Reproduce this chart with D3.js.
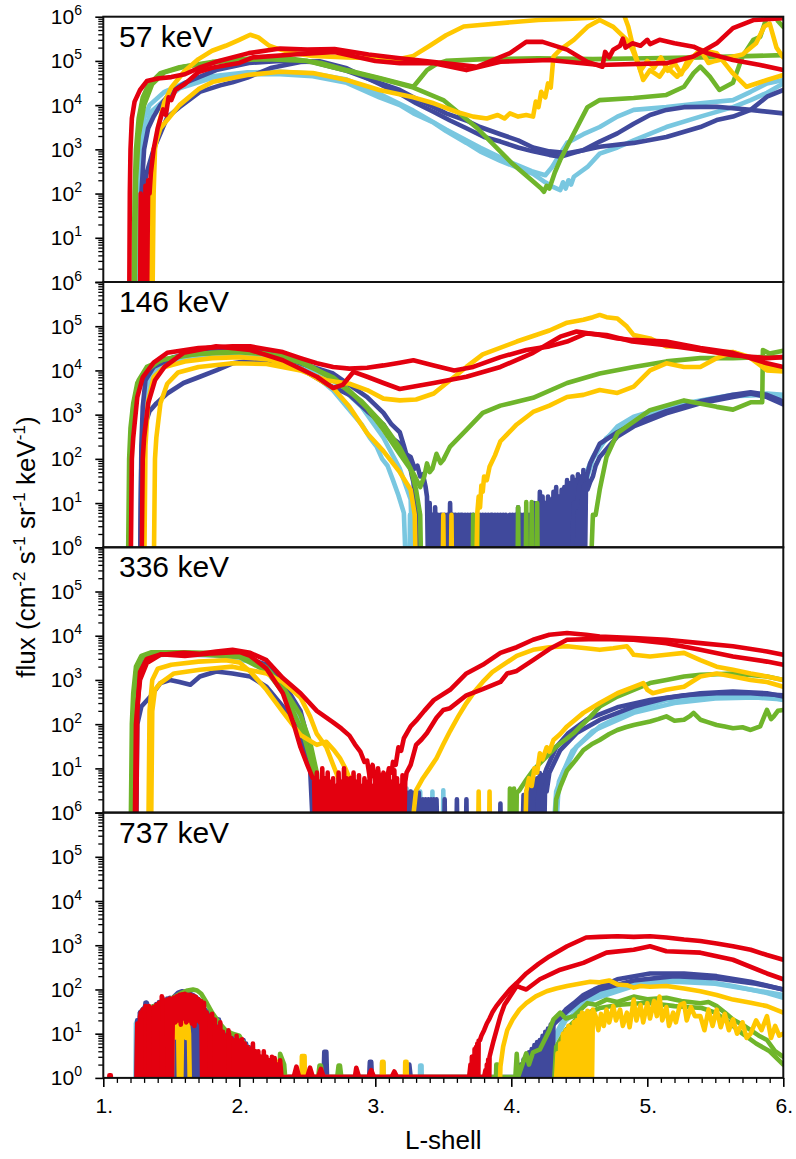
<!DOCTYPE html>
<html><head><meta charset="utf-8">
<script src="https://cdn.jsdelivr.net/npm/d3@7"></script>
<style>body{margin:0;background:#fff}svg{display:block}text{font-family:"Liberation Sans",Arial,Helvetica,sans-serif;fill:#000}</style>
</head><body>
<script>
// ---------------- axis / label data ----------------
const panelTitles = ["57 keV","146 keV","336 keV","737 keV"];
const xTicks = [1,2,3,4,5,6];
const xTickLabels = ["1.","2.","3.","4.","5.","6."];
const yMajor = [1,10,100,1e3,1e4,1e5,1e6];
const yExp = ["0","1","2","3","4","5","6"];
const xTitle = "L-shell";

// ---------------- 57 keV ----------------
const k57_lblueA = [[1.27,0],[1.28,1e2],[1.29,8e2],[1.31,3e3],[1.35,7e3],[1.45,1.3e4],[1.56,2.4e4],[1.81,4.2e4],[2.06,5e4],[2.3,5e4],[2.54,4.5e4],[2.79,3.2e4],[3.03,1.5e4],[3.18,1e4],[3.28,6.5e3],[3.43,4e3],[3.52,2.6e3],[3.67,1.4e3],[3.77,9e2],[3.92,5.5e2],[4.05,3.8e2],[4.16,2.8e2],[4.25,1.8e2],[4.31,1.4e2],[4.36,1.2e2],[4.38,1.8e2],[4.40,1.3e2],[4.42,2e2],[4.44,1.6e2],[4.46,2.4e2],[4.56,4e2],[4.65,8e2],[4.78,1.1e3],[4.90,1.6e3],[5.14,3.2e3],[5.39,5.5e3],[5.63,9e3],[5.76,1.3e4],[5.88,1.9e4],[6.0,3.1e4]];
const k57_lblueB = [[1.26,0],[1.27,2e2],[1.28,1.5e3],[1.30,5e3],[1.34,1e4],[1.45,2e4],[1.6,3.2e4],[1.8,4.5e4],[2.06,5.5e4],[2.3,5.7e4],[2.54,5.2e4],[2.79,3.8e4],[3.03,1.8e4],[3.28,7.5e3],[3.52,2.8e3],[3.77,1.1e3],[4.0,5e2],[4.15,3.2e2],[4.25,2.6e2],[4.30,4e2],[4.36,8e2],[4.41,1.4e3],[4.53,2.2e3],[4.65,3.2e3],[4.78,5.5e3],[4.90,7.8e3],[5.14,9e3],[5.39,1.1e4],[5.63,1.3e4],[5.76,2e4],[5.88,3.1e4],[6.0,3.7e4]];
const k57_dblueA = [[1.28,0],[1.29,1.2e2],[1.32,3e2],[1.37,1e3],[1.42,2.3e3],[1.47,5.3e3],[1.56,9e3],[1.71,2e4],[1.86,2.8e4],[1.95,3.3e4],[2.06,4.2e4],[2.23,6.9e4],[2.45,9.5e4],[2.59,9.8e4],[2.79,6.8e4],[3.03,3e4],[3.18,1.8e4],[3.30,1.1e4],[3.43,7e3],[3.55,4.5e3],[3.67,3e3],[3.80,1.9e3],[3.92,1.5e3],[4.05,1.1e3],[4.16,9e2],[4.28,7.5e2],[4.36,6.8e2],[4.44,8e2],[4.53,9.6e2],[4.65,1.5e3],[4.78,2.3e3],[4.90,3.8e3],[5.02,6e3],[5.14,7.8e3],[5.27,9e3],[5.51,9.2e3],[5.76,7.8e3],[6.0,6.5e3]];
const k57_dblueB = [[1.27,0],[1.28,1e2],[1.30,1e3],[1.33,3e3],[1.37,5.5e3],[1.42,1e4],[1.5,2e4],[1.6,3.2e4],[1.83,6.2e4],[2.07,9e4],[2.3,1e5],[2.54,9.5e4],[2.79,6e4],[3.03,3.2e4],[3.18,2.2e4],[3.28,1.5e4],[3.43,9e3],[3.52,6.5e3],[3.67,4.5e3],[3.77,3.2e3],[3.92,2.2e3],[4.05,1.6e3],[4.16,1.1e3],[4.28,9e2],[4.41,8.2e2],[4.53,9.5e2],[4.65,1.15e3],[4.90,1.4e3],[5.14,1.9e3],[5.39,3.2e3],[5.51,4.6e3],[5.63,5.5e3],[5.76,7.8e3],[5.88,1.55e4],[6.0,2.2e4]];
const k57_greenA = [[1.22,0],[1.23,1e2],[1.24,1e3],[1.26,5e3],[1.29,1.5e4],[1.33,2.8e4],[1.42,5.3e4],[1.56,7.2e4],[1.8,9.5e4],[2.1,1.15e5],[2.4,1.1e5],[2.6,9e4],[2.79,6.2e4],[3.03,4.1e4],[3.28,2.6e4],[3.33,4e4],[3.38,6.2e4],[3.45,8.5e4],[3.52,1e5],[3.8,1.1e5],[4.2,1.15e5],[4.6,1.1e5],[5.0,1.15e5],[5.4,1.2e5],[5.8,1.3e5],[6.0,1.35e5]];
const k57_greenB = [[1.23,0],[1.24,2e2],[1.26,2e3],[1.30,1e4],[1.36,3e4],[1.45,5.5e4],[1.6,7.5e4],[1.9,1e5],[2.2,1.1e5],[2.5,1e5],[2.79,6e4],[3.03,4e4],[3.28,2.5e4],[3.5,1.3e4],[3.75,3e3],[4.0,5e2],[4.15,2e2],[4.22,1.3e2],[4.24,1.1e2],[4.26,1.5e2],[4.28,1.3e2],[4.32,3e2],[4.36,5.8e2],[4.46,2.3e3],[4.56,9e3],[4.65,1.3e4],[4.9,1.45e4],[5.14,1.7e4],[5.27,2.6e4],[5.34,5.3e4],[5.39,7.4e4],[5.46,4.4e4],[5.53,2.2e4],[5.63,3.2e4],[5.70,1.26e5],[5.78,3e5],[5.83,3.5e5],[5.88,1e6],[5.92,1.5e6],[5.96,8e5],[6.0,5.9e5]];
const k57_yellowA = [[1.36,0],[1.37,1e2],[1.38,1e3],[1.41,4e3],[1.45,1.2e4],[1.5,2.5e4],[1.6,6e4],[1.7,1.1e5],[1.8,1.7e5],[1.9,2.2e5],[2.0,3e5],[2.08,3.9e5],[2.14,3.4e5],[2.22,2.2e5],[2.3,1.8e5],[2.4,1.5e5],[2.54,1.3e5],[2.79,1.2e5],[3.03,1.15e5],[3.18,1.1e5],[3.28,1.3e5],[3.4,2.2e5],[3.52,3.8e5],[3.65,6e5],[3.77,6.5e5],[4.0,7.5e5],[4.2,8.4e5],[4.45,9e5],[4.6,9.5e5],[4.65,1.1e6],[4.75,1.4e6],[4.82,1.3e6],[4.86,6e5],[4.9,1.8e5],[4.95,6e4],[5.0,1e5],[5.05,7e4],[5.1,1.2e5],[5.15,6e4],[5.2,9e4],[5.25,5e4],[5.3,1.1e5],[5.35,1.3e5],[5.4,1.6e5],[5.45,9e4],[5.5,1e5],[5.6,1.2e5],[5.7,1.4e5],[5.8,2.5e5],[5.86,6e5],[5.9,7e5],[5.95,2e5],[6.0,1.2e5]];
const k57_yellowB = [[1.34,0],[1.35,1e2],[1.37,1e3],[1.42,3e3],[1.5,6e3],[1.56,1e4],[1.7,2.3e4],[1.81,3.4e4],[2.06,4.8e4],[2.3,5.7e4],[2.54,5.3e4],[2.79,3.7e4],[3.03,2.2e4],[3.28,1.5e4],[3.43,1.1e4],[3.6,7e3],[3.72,5.5e3],[3.82,5e3],[3.9,6e3],[3.95,5e3],[3.99,6.5e3],[4.05,5.5e3],[4.11,6e3],[4.16,5.5e3],[4.18,1.2e4],[4.20,9e3],[4.22,2e4],[4.25,1.5e4],[4.27,3.1e4],[4.29,2.5e4],[4.31,1.25e5],[4.36,1.8e5],[4.46,3e5],[4.56,5.9e5],[4.65,8.4e5],[4.75,5.9e5],[4.85,3e5],[4.89,1.8e5],[4.94,7.4e4],[4.97,3.7e4],[5.02,6.2e4],[5.09,4.4e4],[5.14,7.4e4],[5.22,4.4e4],[5.29,7.4e4],[5.34,1.26e5],[5.39,1.8e5],[5.51,1.5e5],[5.63,5.2e4],[5.73,2.6e4],[5.88,3.7e4],[6.0,4.8e4]];
const k57_redA = [[1.19,0],[1.195,1e2],[1.2,1e3],[1.21,5e3],[1.23,1.2e4],[1.27,2.2e4],[1.32,3.5e4],[1.4,4e4],[1.5,4.3e4],[1.6,5e4],[1.7,6.9e4],[1.85,1e5],[2.07,1.5e5],[2.3,1.9e5],[2.5,1.8e5],[2.7,1.85e5],[2.95,1.4e5],[3.18,1.15e5],[3.5,8.9e4],[3.75,7.4e4],[3.99,1.5e5],[4.11,2.7e5],[4.23,2.7e5],[4.41,1.8e5],[4.56,9.5e4],[4.67,7.4e4],[4.69,1.6e5],[4.72,1.2e5],[4.75,1.8e5],[4.80,2.2e5],[4.82,3.2e5],[4.84,2e5],[4.89,2.5e5],[4.95,2.2e5],[5.0,3e5],[5.02,2.4e5],[5.09,3e5],[5.2,2.5e5],[5.34,2.1e5],[5.44,1.5e5],[5.63,1.05e5],[5.83,8.1e4],[6.0,6.2e4]];
const k57_redB = [[1.27,0],[1.275,1e2],[1.28,0],[1.29,80],[1.30,0],[1.31,1.5e2],[1.32,0],[1.33,2e2],[1.34,1e2],[1.35,3e2],[1.37,1e3],[1.40,3e3],[1.44,8e3],[1.46,6e3],[1.48,1.5e4],[1.5,1.3e4],[1.53,2.2e4],[1.6,3e4],[1.7,5.6e4],[1.8,7e4],[1.9,8e4],[2.0,9e4],[2.1,1.2e5],[2.4,1.4e5],[2.7,1.6e5],[3.0,1e5],[3.18,8.9e4],[3.43,8.9e4],[3.67,6.2e4],[3.92,9.6e4],[4.28,1.05e5],[4.65,8.1e4],[5.14,8.9e4],[5.34,1.26e5],[5.51,2.5e5],[5.63,5.5e5],[5.78,8.4e5],[6.0,9.2e5]];

// ---------------- 146 keV ----------------
const k146_lblueA = [[1.27,0],[1.28,1e2],[1.30,1.5e3],[1.34,7e3],[1.42,1.3e4],[1.6,1.8e4],[1.8,2.2e4],[2.0,2.4e4],[2.2,2e4],[2.45,1.2e4],[2.6,6e3],[2.69,3.5e3],[2.79,1.5e3],[2.9,6e2],[2.96,3e2],[3.01,1.9e2],[3.05,1e2],[3.09,70],[3.13,33],[3.17,15],[3.21,6],[3.23,0],[3.25,0],[3.255,5.4],[3.26,0],[3.28,0],[3.285,5.4],[3.29,0],[3.575,0],[3.58,5.4],[3.585,0],[3.615,0],[3.62,5.4],[3.625,0],[4.45,0],[4.46,5.4],[4.48,0],[4.50,10],[4.52,10],[4.54,25],[4.56,56],[4.60,1.1e2],[4.65,1.9e2],[4.78,5.4e2],[4.90,9e2],[5.14,1.5e3],[5.39,2.1e3],[5.63,2.8e3],[5.88,3e3],[6.0,2.8e3]];
const k146_lblueB = [[1.28,0],[1.29,3e2],[1.32,4e3],[1.38,1.1e4],[1.5,1.8e4],[1.7,2.5e4],[1.95,2.8e4],[2.2,2.4e4],[2.45,1.4e4],[2.69,6e3],[2.9,1.5e3],[3.06,3e2],[3.18,60],[3.26,12],[3.28,0],[4.47,0],[4.50,12],[4.53,20],[4.6,1e2],[4.7,3e2],[4.9,8e2],[5.14,1.4e3],[5.39,2e3],[5.63,2.6e3],[5.88,2.8e3],[6.0,2.6e3]];
const k146_dblueA_a = [[1.27,0],[1.28,1e2],[1.30,5e2],[1.34,1.2e3],[1.39,1.8e3],[1.47,3e3],[1.59,5.2e3],[1.71,7.2e3],[1.83,1e4],[1.95,1.45e4],[2.10,1.7e4],[2.28,1.6e4],[2.45,1.1e4],[2.64,5e3],[2.81,2.8e3],[2.94,1.2e3],[3.06,6e2],[3.12,3e2],[3.18,2.2e2],[3.22,1.3e2],[3.26,1.1e2],[3.29,60],[3.31,70],[3.33,40],[3.35,45],[3.37,23]];
const n146_dblueA = [14,0,10,0,5.4,0,8,0,5.4,0, 5.4,5.4,0,5.4,0,5.4,0,10,0,5.4, 0,5.4,0,5.4,0,5.4,5.4,0,5.4,0, 5.4,0,5.4,0,5.4,0,0,5.4,0,5.4, 0,5.4,0,5.4,0,5.4,0,5.4,5.4,0, 5.4,0,5.4,0,5.4,0,5.4,0,5.4,0, 0,5.4,0,5.4,0,5.4,0,8,0,5.4, 0,5.4,0,5.4,0,5.4,0,5.4,0,10, 0,5.4,0,18,0,14,0,10,0,14, 0,12,0,18,0,23,0,14,0,20, 0,23,0,33,0,28,0,40,0,33, 0,45,0,40,0,56,0,45];
const k146_dblueA_b = [[4.56,20],[4.58,30],[4.60,40],[4.62,70],[4.65,1.1e2],[4.78,3.2e2],[4.90,5.4e2],[5.14,1.07e3],[5.39,1.8e3],[5.63,2.5e3],[5.76,3e3],[5.88,2.5e3],[6.0,1.7e3]];
const k146_dblueB = [[1.27,0],[1.28,2e2],[1.29,1.5e3],[1.31,6e3],[1.37,1.2e4],[1.52,2e4],[1.71,2.9e4],[1.95,3.2e4],[2.20,2.6e4],[2.45,1.45e4],[2.69,8.5e3],[2.94,2.5e3],[3.06,1.1e3],[3.12,6e2],[3.18,4e2],[3.21,2e2],[3.23,1.2e2],[3.25,80],[3.27,40],[3.28,30],[3.30,8],[3.31,0],[4.44,0],[4.46,10],[4.48,8],[4.50,25],[4.53,40],[4.55,35],[4.58,80],[4.65,2.2e2],[4.78,4e2],[4.90,6.3e2],[5.14,1.2e3],[5.39,2e3],[5.63,2.8e3],[5.76,3.2e3],[5.88,2.8e3],[6.0,2e3]];
const k146_greenA = [[1.18,0],[1.19,1e2],[1.20,5e2],[1.22,1.8e3],[1.25,5.2e3],[1.32,1e4],[1.42,1.7e4],[1.6,2.2e4],[1.8,2.5e4],[2.0,2.7e4],[2.2,2.4e4],[2.45,1.5e4],[2.69,7e3],[2.81,3.5e3],[2.94,1.4e3],[3.06,4.5e2],[3.18,1.3e2],[3.28,47],[3.33,23],[3.36,40],[3.38,79],[3.40,50],[3.42,60],[3.45,1.3e2],[3.48,80],[3.50,95],[3.55,1.9e2],[3.67,4.5e2],[3.79,1.1e3],[3.92,1.6e3],[4.16,2.4e3],[4.41,5.2e3],[4.65,8.5e3],[4.90,1.2e4],[5.14,1.6e4],[5.39,1.9e4],[5.63,1.9e4],[5.83,2e4],[6.0,2e4]];
const k146_greenB = [[1.19,0],[1.20,2e2],[1.22,1.5e3],[1.26,6e3],[1.32,1.2e4],[1.45,1.8e4],[1.7,2.4e4],[2.0,2.6e4],[2.3,2.2e4],[2.5,1.4e4],[2.7,6e3],[2.9,2e3],[3.06,6e2],[3.18,1.8e2],[3.26,60],[3.30,20],[3.33,5.4],[3.34,0],[3.715,0],[3.72,5.4],[3.725,0],[3.745,0],[3.75,5.4],[3.755,0],[4.045,0],[4.05,8],[4.055,0],[4.105,0],[4.11,10.5],[4.115,0],[4.145,0],[4.15,10.5],[4.155,0],[4.185,0],[4.19,10],[4.195,0],[4.58,0],[4.60,5.4],[4.62,5.4],[4.65,20],[4.70,1.1e2],[4.78,3.8e2],[5.02,1.26e3],[5.27,2.1e3],[5.51,1.5e3],[5.63,1.3e3],[5.76,1.9e3],[5.845,1.9e3],[5.85,2.9e4],[5.9,2.4e4],[6.0,2.8e4]];
const k146_yellowA = [[1.37,0],[1.38,1e2],[1.39,3e2],[1.42,1.8e3],[1.47,5e3],[1.55,9e3],[1.7,1.2e4],[1.95,1.45e4],[2.2,1.4e4],[2.45,1e4],[2.64,6e3],[2.81,5e3],[2.94,3.6e3],[3.06,2.3e3],[3.18,2.1e3],[3.30,2.2e3],[3.43,3e3],[3.55,6e3],[3.67,1.2e4],[3.79,2.3e4],[4.04,4.5e4],[4.28,8e4],[4.41,1.2e5],[4.53,1.4e5],[4.60,1.6e5],[4.65,1.8e5],[4.70,1.6e5],[4.78,1.5e5],[4.85,9.8e4],[4.90,6.3e4],[5.02,5.3e4],[5.14,3.5e4],[5.27,3.5e4],[5.39,2.9e4],[5.51,2.6e4],[5.63,2.6e4],[5.76,2e4],[5.88,1.2e4],[6.0,1e4]];
const k146_yellowB = [[1.30,0],[1.31,2e2],[1.33,2e3],[1.37,7e3],[1.45,1.2e4],[1.6,1.6e4],[1.8,1.9e4],[2.0,2e4],[2.2,1.8e4],[2.45,1.1e4],[2.69,4e3],[2.81,1.5e3],[2.94,3.8e2],[3.06,1.5e2],[3.18,50],[3.26,20],[3.29,5.4],[3.30,0],[3.495,0],[3.50,5.4],[3.505,0],[3.555,0],[3.56,5.4],[3.565,0],[3.74,0],[3.75,5.9],[3.76,14],[3.77,8],[3.78,25],[3.79,18],[3.80,40],[3.82,33],[3.84,66],[3.88,1.2e2],[3.92,2.5e2],[4.04,6e2],[4.16,1.15e3],[4.28,1.6e3],[4.41,2.5e3],[4.53,2.8e3],[4.65,3.6e3],[4.78,3.1e3],[4.90,4.3e3],[5.02,1e4],[5.14,1.45e4],[5.27,1.2e4],[5.39,1.2e4],[5.51,1.9e4],[5.63,2.6e4],[5.76,1.9e4],[5.88,1e4],[6.0,9.5e3]];
const k146_redA = [[1.20,0],[1.21,1e2],[1.22,3e2],[1.25,2.5e3],[1.29,7e3],[1.37,1.5e4],[1.47,2.5e4],[1.7,3.2e4],[1.95,3.5e4],[2.08,3.5e4],[2.2,3e4],[2.32,2.6e4],[2.45,1.9e4],[2.57,1.45e4],[2.69,1.2e4],[2.81,1.1e4],[2.94,1.15e4],[3.06,1.3e4],[3.18,1.5e4],[3.28,1.7e4],[3.43,1.3e4],[3.58,1e4],[3.72,1.2e4],[3.92,2e4],[4.11,2.9e4],[4.28,3.5e4],[4.41,4.5e4],[4.55,6.9e4],[4.70,6.3e4],[4.89,4.5e4],[5.14,3.7e4],[5.39,2.9e4],[5.63,2.2e4],[5.88,1.9e4],[6.0,2e4]];
const k146_redB = [[1.28,0],[1.29,1e2],[1.30,3e2],[1.33,1.8e3],[1.38,6e3],[1.45,1.2e4],[1.59,2.5e4],[1.83,3.5e4],[2.08,2.9e4],[2.32,1.7e4],[2.57,7.2e3],[2.69,4e3],[2.76,4.7e3],[2.84,9.3e3],[2.94,7.2e3],[3.06,5.2e3],[3.18,3.8e3],[3.43,5.2e3],[3.67,7.2e3],[3.92,1.2e4],[4.16,2.5e4],[4.36,5.8e4],[4.48,7.6e4],[4.65,6.3e4],[4.78,5.3e4],[4.89,4.9e4],[5.14,4.5e4],[5.39,3.2e4],[5.63,2.5e4],[5.88,1.45e4],[6.0,1.2e4]];

// ---------------- 336 keV ----------------
const k336_lblueA = [[1.22,0],[1.23,2e2],[1.25,1.5e3],[1.28,3e3],[1.35,4e3],[1.5,4.2e3],[1.7,4e3],[1.9,3.8e3],[2.08,3e3],[2.2,1.8e3],[2.32,6e2],[2.45,1.3e2],[2.5,35],[2.55,6],[2.57,0],[3.255,0],[3.26,3],[3.265,0],[3.325,0],[3.33,3],[3.335,0],[3.495,0],[3.50,3.2],[3.505,0],[4.30,0],[4.33,3],[4.38,8],[4.48,31],[4.65,89],[4.90,2.1e2],[5.14,3.5e2],[5.39,4.2e2],[5.63,4.6e2],[5.88,4.2e2],[6.0,3.5e2]];
const k336_lblueB = [[1.23,0],[1.24,3e2],[1.27,2e3],[1.32,3.5e3],[1.5,3.8e3],[1.8,3.6e3],[2.08,2.6e3],[2.25,1.2e3],[2.4,2.5e2],[2.5,40],[2.56,5],[2.58,0],[3.225,0],[3.23,3.5],[3.235,0],[3.415,0],[3.42,3],[3.425,0],[4.32,0],[4.35,5],[4.45,25],[4.6,70],[4.9,1.8e2],[5.2,3e2],[5.5,3.8e2],[5.8,4e2],[6.0,3.6e2]];
const k336_dblueA_a = [[1.22,0],[1.23,1e2],[1.25,1e3],[1.28,2.5e3],[1.33,3.5e3],[1.45,4e3],[1.6,4e3],[1.8,4e3],[2.0,3.5e3],[2.2,2.2e3],[2.32,9e2],[2.45,2e2],[2.5,50],[2.53,12],[2.55,4]];
const n336_dblueA1 = [0,3,0,3.5,0,3,0,4,0,3,0,3,0,3.5,0,3,0];
const n336_dblueA2 = [0,2.8,0,3,0,2.8,0,3,0,2.8,0,3,0,2.8,0,0,2,0,2,0,2,0,2,0,2,0,2,0];
const k336_dblueA_b = [[3.505,0],[3.51,2],[3.515,0],[3.595,0],[3.60,2],[3.605,0],[3.665,0],[3.67,2],[3.675,0],[3.915,0],[3.92,1.6],[3.925,0],[4.07,0]];
const n336_dblueA3 = [0,2.5,0,3,0,3.5,0,4,0,5,0,6,0,7.8,0,7,0,8,3];
const k336_dblueA_c = [[4.28,8],[4.36,26],[4.48,63],[4.65,1.25e2],[4.90,2.5e2],[5.14,3.9e2],[5.39,5e2],[5.63,5.5e2],[5.88,5e2],[6.0,4.2e2]];
const k336_dblueB = [[1.24,0],[1.25,1e2],[1.28,2.5e2],[1.34,4e2],[1.42,8.5e2],[1.49,1e3],[1.56,9e2],[1.64,7.8e2],[1.71,1.2e3],[1.83,1.55e3],[1.95,1.4e3],[2.08,1.2e3],[2.20,7e2],[2.32,2.5e2],[2.45,63],[2.52,11],[2.55,0],[4.18,0],[4.20,3],[4.26,10],[4.33,30],[4.42,63],[4.56,1.3e2],[4.78,2.4e2],[5.02,3.5e2],[5.27,4.5e2],[5.51,5e2],[5.76,5e2],[6.0,4.5e2]];
const k336_greenA = [[1.20,0],[1.21,1e2],[1.22,5e2],[1.24,2e3],[1.28,3.5e3],[1.35,4.2e3],[1.6,4.2e3],[1.9,4e3],[2.08,3.2e3],[2.2,1.9e3],[2.32,7e2],[2.45,1.6e2],[2.52,40],[2.57,8],[2.6,0],[3.985,0],[3.99,3.5],[3.995,0],[4.015,0],[4.02,3.5],[4.025,0],[4.035,0],[4.04,2.8],[4.06,3.2],[4.08,4],[4.11,5.5],[4.16,9],[4.21,13],[4.27,20],[4.33,31],[4.40,45],[4.46,63],[4.51,90],[4.56,1.25e2],[4.65,2.5e2],[4.78,4.2e2],[4.90,6e2],[5.02,8.5e2],[5.14,1e3],[5.27,1.2e3],[5.39,1.3e3],[5.63,1.4e3],[5.88,1.2e3],[6.0,1e3]];
const k336_greenB = [[1.21,0],[1.22,2e2],[1.24,1.5e3],[1.28,3e3],[1.4,3.8e3],[1.7,3.8e3],[2.0,3.3e3],[2.2,1.6e3],[2.35,4e2],[2.47,60],[2.55,8],[2.58,0],[4.31,0],[4.33,2],[4.36,3.8],[4.41,9],[4.47,15],[4.53,26],[4.59,35],[4.65,44],[4.72,60],[4.78,74],[4.84,85],[4.90,96],[4.96,1.05e2],[5.02,1.15e2],[5.08,1.3e2],[5.14,1.5e2],[5.20,1.2e2],[5.27,1.26e2],[5.31,1.5e2],[5.34,1.8e2],[5.39,1.26e2],[5.45,1.1e2],[5.51,96],[5.57,88],[5.63,81],[5.70,85],[5.76,74],[5.83,89],[5.86,1.5e2],[5.88,2.1e2],[5.91,1.3e2],[5.93,1.5e2],[5.96,2e2],[6.0,2.1e2]];
const k336_yellowA = [[1.33,0],[1.34,2e2],[1.36,1e3],[1.40,1.8e3],[1.5,2.2e3],[1.7,2.6e3],[1.9,2.8e3],[2.0,2.5e3],[2.08,1.55e3],[2.2,6e2],[2.32,1.9e2],[2.45,57],[2.57,34],[2.64,40],[2.70,25],[2.74,17],[2.78,10],[2.81,6],[2.84,0],[3.25,0],[3.30,3.2],[3.35,6],[3.40,10],[3.45,17],[3.50,35],[3.55,70],[3.61,1.5e2],[3.67,3e2],[3.73,5.5e2],[3.79,9e2],[3.86,1.5e3],[3.92,2e3],[4.04,3.5e3],[4.16,4.8e3],[4.28,5.5e3],[4.41,5.8e3],[4.55,5.2e3],[4.65,4.8e3],[4.75,5.2e3],[4.85,5.8e3],[4.88,4.5e3],[4.90,3.7e3],[5.02,3.4e3],[5.14,3.7e3],[5.27,4.1e3],[5.39,2.8e3],[5.51,2e3],[5.63,1.7e3],[5.76,1.4e3],[5.88,1.2e3],[6.0,1e3]];
const k336_yellowB = [[1.35,0],[1.36,2e2],[1.38,6e2],[1.42,8.5e2],[1.52,1.4e3],[1.71,1.7e3],[1.95,2e3],[2.2,1.4e3],[2.32,9e2],[2.45,4e2],[2.52,1.5e2],[2.57,60],[2.6,45],[2.64,30],[2.7,10],[2.75,4],[2.77,0],[3.755,0],[3.76,3],[3.765,0],[3.835,0],[3.84,3],[3.845,0],[4.10,0],[4.11,3],[4.13,6],[4.15,4],[4.17,10],[4.19,8],[4.21,22],[4.23,16],[4.26,30],[4.28,24],[4.31,44],[4.36,60],[4.41,89],[4.53,1.8e2],[4.65,3e2],[4.78,5e2],[4.90,7e2],[4.97,8.5e2],[5.0,6e2],[5.04,5e2],[5.14,6e2],[5.27,7e2],[5.39,1.2e3],[5.51,1.4e3],[5.63,1.2e3],[5.76,1e3],[5.88,9e2],[6.0,7e2]];
const k336_redA = [[1.23,0],[1.24,1e2],[1.25,2.5e2],[1.27,1e3],[1.32,2.4e3],[1.42,3.7e3],[1.59,4.1e3],[1.71,3.9e3],[1.83,4.4e3],[1.95,4.8e3],[2.08,4.1e3],[2.2,2.8e3],[2.32,1.1e3],[2.45,5e2],[2.57,2e2],[2.69,1.1e2],[2.75,80],[2.81,55],[2.85,35],[2.89,24],[2.92,14],[2.94,15],[2.96,6],[2.98,12],[3.0,5],[3.02,9],[3.04,4],[3.06,8],[3.08,4.3],[3.10,10],[3.12,8],[3.13,14],[3.15,12],[3.17,30],[3.19,25],[3.21,48],[3.26,89],[3.30,1.2e2],[3.36,2e2],[3.43,3.5e2],[3.55,6e2],[3.67,1.4e3],[3.79,2.2e3],[3.92,4.1e3],[4.04,5.5e3],[4.16,8.1e3],[4.28,1.05e4],[4.41,1.15e4],[4.55,1.05e4],[4.65,9.6e3],[4.90,8.9e3],[5.14,8.1e3],[5.39,6.8e3],[5.63,5.8e3],[5.88,4.4e3],[6.0,3.7e3]];
const k336_redB_a = [[1.24,0],[1.25,2e2],[1.27,1.5e3],[1.32,3e3],[1.42,3.8e3],[1.6,3.5e3],[1.8,4e3],[2.0,4.3e3],[2.08,3.5e3],[2.2,1.8e3],[2.32,5e2],[2.40,1e2],[2.45,30],[2.5,12],[2.54,6]];
const n336_redB = [6,0,8,0,5,0,10,0,6,0, 8,0,5,0,6,0,4,0,8,0, 5,0,10,0,6,0,4,6,0,8, 0,5,0,7,0,4,0,6,0,5, 0,8,0,4,0,6,0,10,0,5, 0,6,0,4,0,8,0,5,0,9, 0,6,0,4,0,7,0,5];
const k336_redB_b = [[3.23,8],[3.26,12],[3.30,34],[3.34,45],[3.38,63],[3.45,1.4e2],[3.50,2.1e2],[3.55,2.3e2],[3.67,4.5e2],[3.79,6.2e2],[3.92,9e2],[3.97,1.4e3],[4.04,1.6e3],[4.16,2.8e3],[4.28,5e3],[4.41,8.1e3],[4.65,8.5e3],[4.90,8.1e3],[5.14,6.8e3],[5.39,4.8e3],[5.63,3.4e3],[5.88,2.6e3],[6.0,2.2e3]];

// ---------------- 737 keV ----------------
const k737_lblueA = [[1.235,0],[1.24,17],[1.25,20],[1.255,0],[1.875,0],[1.88,12],[1.89,12],[1.895,0],[3.045,0],[3.05,2.2],[3.06,2.2],[3.065,0],[3.325,0],[3.33,1.9],[3.34,1.9],[3.345,0],[4.10,0],[4.16,1.2],[4.28,5],[4.41,30],[4.65,83],[4.90,1.4e2],[5.14,1.7e2],[5.39,1.6e2],[5.63,1.2e2],[5.88,83],[6.0,65]];
const k737_lblueB = [[4.2,0],[4.25,3],[4.4,20],[4.6,60],[4.9,1.2e2],[5.2,1.5e2],[5.5,1.35e2],[5.8,95],[6.0,75]];
const k737_dblueA_a = [[1.23,0]];
const n737_dblueA1 = [0,20,0,30,0,35,0,50,0,42, 0,40,0,42,0,47,0,52,0,55, 0,58,0,62,0,65,0,35,0,32, 0,35,0,30,0,33,0,28,0,30, 0,25,0,20,0,25,0,30,0,40, 0,34,0,30,0,28,0,25,0,21, 0,21,0,14,0,12,0,10,0,9, 0,8,0,7,0,8,0,7.2,0,7, 0,6,0,5,0,4,0,3,0];
const k737_dblueA_b = [[2.13,1.05],[2.62,1.05],[2.625,3.9],[2.64,3.9],[2.645,1.05],[2.955,1.05],[2.96,2.3],[2.97,2.3],[2.975,1.05],[3.24,1.05],[3.25,2],[3.26,1.05],[4.03,1.05]];
const n737_dblueA2 = [1.05,1.5,0,2,0,2.6,0,3,0,3.8,0,4.5,0,5.5,0,6.5,0,7.2,0,9,0,11,0,13,0,16,0,19,21];
const k737_dblueA_c = [[4.36,25],[4.40,35],[4.46,49],[4.53,75],[4.61,1e2],[4.78,1.7e2],[5.02,2.3e2],[5.27,2.3e2],[5.51,2e2],[5.76,1.5e2],[6.0,1e2]];
const k737_dblueB = [[1.26,0],[1.27,30],[1.30,38],[1.32,50],[1.33,35],[1.40,45],[1.50,60],[1.55,85],[1.58,91],[1.62,85],[1.66,75],[1.70,60],[1.75,34],[1.80,25],[1.84,21],[1.87,0],[1.99,0],[2.0,7.2],[2.03,7.2],[2.04,0],[4.08,0],[4.12,2],[4.2,6],[4.3,15],[4.4,30],[4.5,55],[4.65,1e2],[4.9,1.6e2],[5.2,2e2],[5.5,1.8e2],[5.8,1.35e2],[6.0,1e2]];
const k737_greenA = [[1.25,0],[1.26,15],[1.3,35],[1.4,45],[1.5,62],[1.58,85],[1.62,95],[1.66,1e2],[1.69,95],[1.72,80],[1.76,50],[1.80,30],[1.85,18],[1.90,12],[1.95,10],[2.0,9],[2.05,5],[2.1,4],[2.15,3],[2.18,1.05],[2.58,1.05],[2.59,1.9],[2.60,1.9],[2.61,1.05],[2.72,1.05],[2.73,1.9],[2.74,1.9],[2.75,1.05],[4.03,1.05],[4.04,3.5],[4.05,1.05],[4.11,3.6],[4.13,2],[4.16,3.8],[4.21,4.4],[4.28,12],[4.31,21],[4.36,30],[4.40,22],[4.46,25],[4.51,35],[4.56,49],[4.62,45],[4.70,59],[4.78,52],[4.90,69],[5.0,60],[5.14,65],[5.25,55],[5.39,49],[5.45,52],[5.51,42],[5.57,30],[5.63,21],[5.70,16],[5.76,12],[5.82,9],[5.88,7.2],[5.94,4],[6.0,3]];
const k737_greenB = [[2.29,0],[2.30,3.5],[2.33,2],[2.36,0],[3.88,0],[3.89,2],[3.90,2],[3.905,0],[4.30,0],[4.33,5],[4.40,12],[4.50,25],[4.65,38],[4.80,45],[5.0,50],[5.2,42],[5.4,38],[5.5,30],[5.6,18],[5.7,10],[5.8,6],[5.9,4],[6.0,2]];
const k737_yellowA_a = [[1.49,0]];
const n737_yellowA = [0,17,8,18,9,20,0,0,25,10,22,8,20,10,0,0,0,0];
const k737_yellowA_b = [[1.995,0],[2.0,6.7],[2.02,6.7],[2.025,0],[2.19,0],[2.2,2.2],[2.25,2.5],[2.3,2.2],[2.31,0],[2.455,0],[2.46,3.1],[2.48,3.1],[2.485,0],[3.045,0],[3.05,2.3],[3.06,2.3],[3.065,0],[3.215,0],[3.22,2.3],[3.23,2.3],[3.235,0],[3.91,0],[3.92,1.8],[3.94,5.1],[3.97,12],[4.01,21],[4.06,35],[4.11,49],[4.18,70],[4.26,91],[4.33,1.05e2],[4.41,1.2e2],[4.5,1.35e2],[4.58,1.5e2],[4.65,1.45e2],[4.72,1.6e2],[4.78,1.3e2],[4.85,1.25e2],[4.90,1.1e2],[4.95,1.2e2],[5.02,1.15e2],[5.14,1.2e2],[5.27,1.05e2],[5.39,91],[5.51,75],[5.63,59],[5.76,50],[5.88,42],[6.0,30]];
const k737_yellowB_a = [[4.32,0]];
const n737_yellowB = [1.05,3.6,0,6,0,10,0,12,0,15,0,14,0,18,0,20,0,25,0,30,0,28,0,33,0,30,0,35];
const k737_yellowB_b = [[4.62,25],[4.64,12],[4.66,28],[4.68,15],[4.70,35],[4.72,18],[4.75,42],[4.77,20],[4.80,35],[4.82,15],[4.85,30],[4.87,14],[4.90,59],[4.92,20],[4.95,45],[4.97,18],[5.0,49],[5.02,22],[5.05,55],[5.07,25],[5.09,69],[5.11,20],[5.14,40],[5.16,15],[5.19,30],[5.21,18],[5.24,45],[5.27,49],[5.29,20],[5.32,40],[5.35,25],[5.39,25],[5.42,12],[5.45,35],[5.48,15],[5.51,35],[5.54,14],[5.57,28],[5.60,12],[5.63,21],[5.66,10],[5.70,18],[5.73,8],[5.76,10],[5.80,20],[5.84,12],[5.88,25],[5.91,8],[5.94,15],[5.97,9],[6.0,10]];
const k737_redA_a = [[1.04,0],[1.045,1.15],[1.055,1.15],[1.06,0],[1.24,0]];
const n737_redA = [17,0,25,0,35,0,42,0,38,0, 38,0,40,0,45,0,50,0,70,0, 55,0,59,0,62,0,15,66,18,70, 20,76,16,78,22,80,18,76,20,76, 17,72,15,68,20,60,18,55,0,50, 0,30,0,25,0,28,0,21,0,14, 0,18,0,11,0,9,0,12,0,8, 0,7,0,9,0,7,0,7.5,0,6, 0,5,0,4.5,0,6,0,4,0,4, 0,3,0,4,0,3,0,2.5,0,3, 0,2.8,0,2,0,2.5];
const k737_redA_b = [[2.31,1.05],[2.40,1.05],[2.42,1.8],[2.44,1.05],[2.50,1.05],[2.52,1.7],[2.54,1.05],[2.95,1.05],[2.97,1.5],[2.99,1.05],[3.69,1.05],[3.70,2],[3.705,0],[3.71,3],[3.715,0],[3.72,3.1],[3.725,0],[3.73,4.5],[3.735,0],[3.74,5],[3.745,0],[3.75,6],[3.755,0],[3.76,7],[3.77,7.2],[3.78,9],[3.80,12],[3.82,17],[3.84,22],[3.86,30],[3.89,42],[3.93,60],[3.99,1e2],[4.04,1.4e2],[4.11,2.3e2],[4.2,3.8e2],[4.28,5.6e2],[4.41,9.5e2],[4.55,1.5e3],[4.65,1.55e3],[4.78,1.6e3],[4.9,1.55e3],[5.02,1.6e3],[5.14,1.5e3],[5.27,1.35e3],[5.39,1.25e3],[5.51,1.1e3],[5.63,9.5e2],[5.76,7.9e2],[5.88,6e2],[6.0,4.7e2]];
const k737_redB = [[1.25,0],[1.27,0],[1.275,30],[1.28,0],[1.33,0],[1.335,42],[1.34,0],[1.43,0],[1.435,65],[1.44,0],[1.78,0],[1.785,25],[1.79,0],[1.92,0],[1.925,10],[1.93,0],[2.35,0],[2.36,1.05],[2.58,1.05],[2.60,1.6],[2.62,1.05],[2.85,1.05],[2.86,1.7],[2.88,1.05],[3.12,1.05],[3.14,1.4],[3.16,1.05],[3.80,1.05],[3.81,1.5],[3.815,0],[3.82,2],[3.825,0],[3.83,2.6],[3.835,0],[3.84,3],[3.85,4],[3.87,7],[3.90,15],[3.92,25],[3.95,45],[3.99,69],[4.04,1.2e2],[4.07,1.1e2],[4.11,1e2],[4.21,1.7e2],[4.36,2.8e2],[4.53,4e2],[4.70,6.8e2],[4.90,7.9e2],[5.02,9.5e2],[5.14,7.3e2],[5.39,6.8e2],[5.63,4.7e2],[5.88,2.3e2],[6.0,1.7e2]];

// samples on a regular L grid (noise stretches)
function grid(start, step, vals){ return vals.map((v,i)=>[+(start+i*step).toFixed(3), v]); }

const s146_dblueA = k146_dblueA_a.concat(grid(3.38,0.01,n146_dblueA), k146_dblueA_b);
const s336_dblueA = k336_dblueA_a.concat(grid(2.56,0.01,n336_dblueA1), [[2.73,0],[3.18,0]], grid(3.19,0.01,n336_dblueA2), k336_dblueA_b, grid(4.08,0.01,n336_dblueA3), k336_dblueA_c);
const s336_redB = k336_redB_a.concat(grid(2.55,0.01,n336_redB), k336_redB_b);
const s737_dblueA = k737_dblueA_a.concat(grid(1.24,0.01,n737_dblueA1), k737_dblueA_b, grid(4.04,0.01,n737_dblueA2), k737_dblueA_c);
const s737_yellowA = k737_yellowA_a.concat(grid(1.50,0.01,n737_yellowA), k737_yellowA_b);
const s737_yellowB = k737_yellowB_a.concat(grid(4.33,0.01,n737_yellowB), k737_yellowB_b);
const s737_redA = k737_redA_a.concat(grid(1.25,0.01,n737_redA), k737_redA_b);

const COLORS = {lblue:"#79c7e0", dblue:"#40499c", green:"#6fb52b", yellow:"#ffc700", red:"#e3000f"};

const panels = [
  {title:panelTitles[0], series:[[k57_lblueA,"lblue"],[k57_lblueB,"lblue"],[k57_dblueA,"dblue"],[k57_dblueB,"dblue"],[k57_greenA,"green"],[k57_greenB,"green"],[k57_yellowA,"yellow"],[k57_yellowB,"yellow"],[k57_redA,"red"],[k57_redB,"red"]]},
  {title:panelTitles[1], series:[[k146_lblueA,"lblue"],[k146_lblueB,"lblue"],[s146_dblueA,"dblue"],[k146_dblueB,"dblue"],[k146_greenA,"green"],[k146_greenB,"green"],[k146_yellowA,"yellow"],[k146_yellowB,"yellow"],[k146_redA,"red"],[k146_redB,"red"]]},
  {title:panelTitles[2], series:[[k336_lblueA,"lblue"],[k336_lblueB,"lblue"],[s336_dblueA,"dblue"],[k336_dblueB,"dblue"],[k336_greenA,"green"],[k336_greenB,"green"],[k336_yellowA,"yellow"],[k336_yellowB,"yellow"],[k336_redA,"red"],[s336_redB,"red"]]},
  {title:panelTitles[3], series:[[k737_lblueA,"lblue"],[k737_lblueB,"lblue"],[s737_dblueA,"dblue"],[k737_dblueB,"dblue"],[k737_greenA,"green"],[k737_greenB,"green"],[s737_yellowA,"yellow"],[s737_yellowB,"yellow"],[s737_redA,"red"],[k737_redB,"red"]]}
];

// ---------------- drawing ----------------
const W=796, H=1159, X0=103.3, X1=783.3, PH=265.3;
const tops=[16.7,282,547.3,812.6];
const svg=d3.select("body").append("svg").attr("width",W).attr("height",H);
const x=d3.scaleLinear().domain([1,6]).range([X0,X1]);
const minorY=[]; for(let e=0;e<6;e++) for(let m=2;m<=9;m++) minorY.push(m*Math.pow(10,e));

panels.forEach((p,i)=>{
  const top=tops[i], bot=top+PH;
  const y=d3.scaleLog().domain([1,1e6]).range([bot,top]);
  svg.append("clipPath").attr("id","clip"+i).append("rect").attr("x",X0).attr("y",top).attr("width",X1-X0).attr("height",PH);
  const g=svg.append("g").attr("clip-path",`url(#clip${i})`);
  const line=d3.line().x(d=>x(d[0])).y(d=>d[1]>0?y(d[1]):bot+40);
  p.series.forEach(([data,c])=>{
    g.append("path").attr("d",line(data)).attr("fill","none").attr("stroke",COLORS[c])
      .attr("stroke-width",4.6).attr("stroke-linejoin","round").attr("stroke-linecap","round");
  });
  svg.append("g").attr("transform",`translate(${X0},0)`)
    .call(d3.axisLeft(y).tickValues(minorY).tickSize(5).tickFormat(""))
    .call(a=>{a.select(".domain").remove(); a.selectAll("line").attr("stroke-width",1.3);});
  svg.append("g").attr("transform",`translate(${X0},0)`)
    .call(d3.axisLeft(y).tickValues(yMajor).tickSize(8).tickFormat(""))
    .call(a=>{a.select(".domain").remove(); a.selectAll("line").attr("stroke-width",1.6);});
  yMajor.forEach((v,j)=>{
    if(i<3 && j===0) return;
    const t=svg.append("text").attr("x",82).attr("y",y(v)+7.5).attr("text-anchor","end").attr("font-size",21);
    t.append("tspan").text("10");
    t.append("tspan").attr("dy",-9).attr("font-size",14).text(yExp[j]);
  });
  svg.append("rect").attr("x",X0).attr("y",top).attr("width",X1-X0).attr("height",PH)
    .attr("fill","none").attr("stroke","#111").attr("stroke-width",2);
  svg.append("text").attr("x",119).attr("y",top+30).attr("font-size",30).text(p.title);
  if(i===3){
    const xa=svg.append("g").attr("transform",`translate(0,${bot})`);
    xa.call(d3.axisBottom(x).tickValues(d3.range(11,60).filter(v=>v%10!==0).map(v=>v/10)).tickSize(5).tickFormat(""))
      .call(a=>{a.select(".domain").remove(); a.selectAll("line").attr("stroke-width",1.3);});
    const xb=svg.append("g").attr("transform",`translate(0,${bot})`);
    xb.call(d3.axisBottom(x).tickValues(xTicks).tickSize(9).tickFormat(""))
      .call(a=>{a.select(".domain").remove(); a.selectAll("line").attr("stroke-width",1.6);});
    xTicks.forEach((v,j)=>{
      svg.append("text").attr("x",x(v)+1).attr("y",1113).attr("text-anchor","middle").attr("font-size",21).text(xTickLabels[j]);
    });
  }
});
svg.append("text").attr("x",(X0+X1)/2).attr("y",1149).attr("text-anchor","middle").attr("font-size",26).text(xTitle);
const yl=svg.append("text").attr("transform","translate(35,547) rotate(-90)").attr("text-anchor","middle").attr("font-size",26);
[["flux (cm",0],["-2",1],[" s",0],["-1",1],[" sr",0],["-1",1],[" keV",0],["-1",1],[")",0]].forEach(([s,sup],k,arr)=>{
  const prevSup = k>0 && arr[k-1][1];
  const ts=yl.append("tspan").text(s);
  if(sup){ ts.attr("dy",-10).attr("font-size",17); }
  else if(prevSup){ ts.attr("dy",10); }
});
</script></body></html>
